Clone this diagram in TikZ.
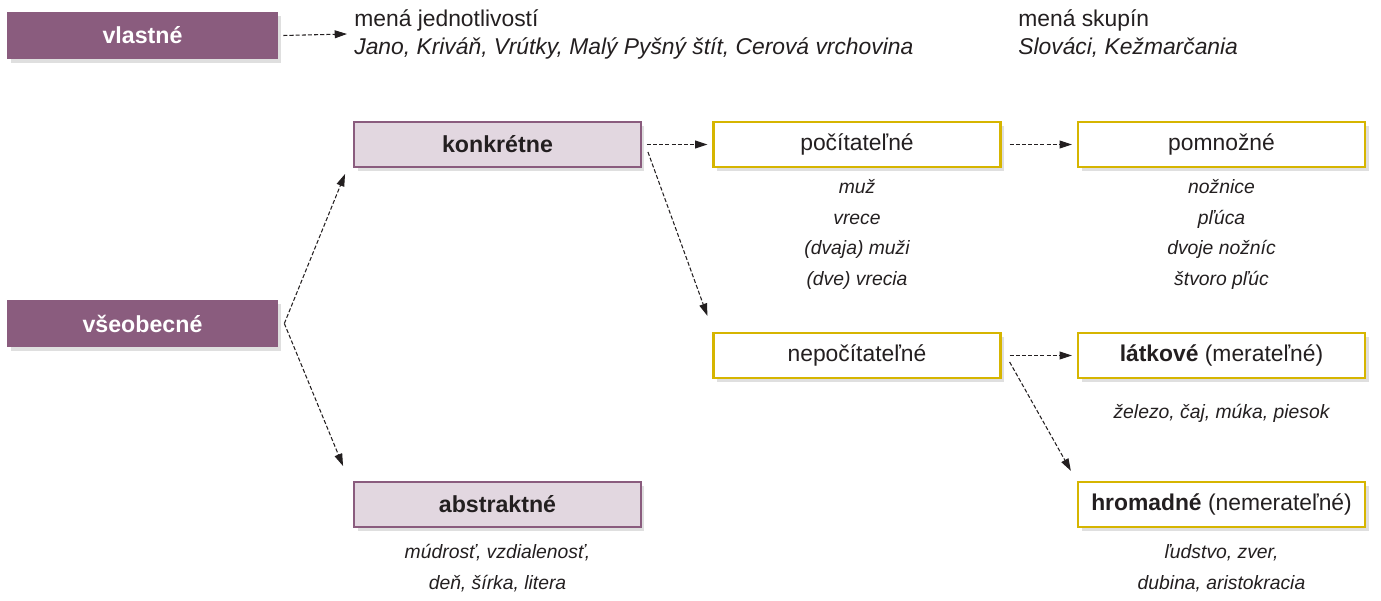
\documentclass[tikz,border=0pt]{standalone}
\usepackage{fontspec}
\setmainfont{Liberation Sans}
\usetikzlibrary{arrows.meta,shadows}
\definecolor{fialova}{HTML}{8A5C7E}
\definecolor{svetlofial}{HTML}{E2D7E0}
\definecolor{zlta}{HTML}{D6B500}
\definecolor{textseda}{HTML}{231F20}
\tikzset{
	hlavny/.style={rectangle, fill=fialova, text=white, font=\fontsize{13.2}{16}\selectfont\bfseries, minimum width=5.42cm, minimum height=0.94cm, inner sep=0pt, drop shadow={shadow xshift=2pt, shadow yshift=-2pt, opacity=0.25}},
	druhy/.style={rectangle, draw=fialova, line width=1.1pt, fill=svetlofial, text=textseda, font=\fontsize{13.2}{16}\selectfont\bfseries, minimum width=5.74cm, minimum height=0.9cm, inner sep=0pt, drop shadow={shadow xshift=2pt, shadow yshift=-2pt, opacity=0.25}},
	treti/.style={rectangle, draw=zlta, line width=1.3pt, fill=white, text=textseda, font=\fontsize{13}{16}\selectfont, minimum width=5.74cm, minimum height=0.9cm, inner sep=0pt, drop shadow={shadow xshift=2pt, shadow yshift=-2pt, opacity=0.25}},
	priklady/.style={text=textseda, font=\fontsize{11}{17.6}\selectfont\itshape, align=center, inner sep=0pt},
	mena/.style={text=textseda, font=\fontsize{13}{15.9}\selectfont, align=left, anchor=west, inner sep=0pt},
	sipka/.style={-{Triangle[length=7pt,width=4.5pt]}, line width=0.6pt, dash pattern=on 2.3pt off 1.2pt, textseda}
}
\begin{document}
\begin{tikzpicture}[x=0.02cm, y=-0.02cm]
			%%%%% START %%%%%
			\useasboundingbox (0,0) rectangle (1381,601);
			
			\node[hlavny] (vlastne) at (142.5, 35.5) {vlastné};
			\node[hlavny] (vseobecne) at (142.5, 323.5) {všeobecné};
			
			\node[druhy] (konkretne) at (497.5, 144.5) {konkrétne};
			\node[druhy] (abstraktne) at (497.5, 504.5) {abstraktné};
			
			\node[treti] (pocitatelne) at (857, 144.5) {počítateľné};
			\node[treti] (pomnozne) at (1221.5, 144.5) {pomnožné};
			\node[treti] (nepocitatelne) at (857, 355.5) {nepočítateľné};
			\node[treti] (latkove) at (1221.5, 355.5) {\textbf{látkové} (merateľné)};
			\node[treti] (hromadne) at (1221.5, 504.5) {\textbf{hromadné} (nemerateľné)};
			
			% popisy vlastnych mien
			\node[mena] (jednotlivosti) at (354, 34) {mená jednotlivostí\\\textit{Jano, Kriváň, Vrútky, Malý Pyšný štít, Cerová vrchovina}};
			\node[mena] (skupiny) at (1018, 34) {mená skupín\\\textit{Slováci, Kežmarčania}};
			
			% priklady pod ramcekmi
			\node[priklady] (prpocit) at (857, 234.5) {muž\\vrece\\(dvaja) muži\\(dve) vrecia};
			\node[priklady] (prpomn) at (1221.5, 234.5) {nožnice\\pľúca\\dvoje nožníc\\štvoro pľúc};
			\node[priklady] (prlatk) at (1221.5, 413) {železo, čaj, múka, piesok};
			\node[priklady] (prhrom) at (1221.5, 568.5) {ľudstvo, zver,\\dubina, aristokracia};
			\node[priklady] (prabstr) at (497.5, 568.5) {múdrosť, vzdialenosť,\\deň, šírka, litera};
			
			% sipky
			\draw[sipka] ([shift={(5,0)}]vlastne.east) -- ([shift={(-7,0)}]jednotlivosti.west);
			
			\coordinate (rozvetvenie) at ([shift={(6,0)}]vseobecne.east);
			\draw[sipka] (rozvetvenie) -- ([shift={(-8,6)}]konkretne.south west);
			\draw[sipka] (rozvetvenie) -- ([shift={(-10,-15)}]abstraktne.north west);
			
			\draw[sipka] ([shift={(5,0)}]konkretne.east) -- ([shift={(-5,0)}]pocitatelne.west);
			\draw[sipka] ([shift={(6,7.5)}]konkretne.east) -- ([shift={(-5,-16)}]nepocitatelne.north west);
			
			\draw[sipka] ([shift={(8,0)}]pocitatelne.east) -- ([shift={(-5,0)}]pomnozne.west);
			\draw[sipka] ([shift={(8,0)}]nepocitatelne.east) -- ([shift={(-5,0)}]latkove.west);
			\draw[sipka] ([shift={(8,6.5)}]nepocitatelne.east) -- ([shift={(-6,-10)}]hromadne.north west);
			
			%%%%% END %%%%%
\end{tikzpicture}
\end{document}
